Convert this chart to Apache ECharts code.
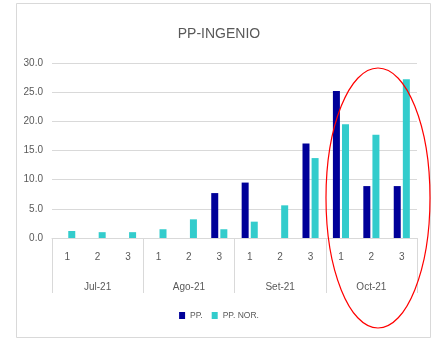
<!DOCTYPE html>
<html><head><meta charset="utf-8">
<script src="https://cdn.jsdelivr.net/npm/echarts@6/dist/echarts.min.js"></script>
<style>html,body{margin:0;padding:0;background:#fff}#c{width:438px;height:340px}</style>
</head><body><div id="c"></div>
<script>
const weeks = ['1','2','3','1','2','3','1','2','3','1','2','3'];
const months = ['Jul-21','Ago-21','Set-21','Oct-21'];
const pp = [0,0,0, 0,0,7.7, 9.5,0,16.2, 25.2,8.9,8.9];
const ppNor = [1.2,1.0,1.0, 1.5,3.2,1.5, 2.8,5.6,13.7, 19.5,17.7,27.2];
const yTicks = [0,5,10,15,20,25,30];

const chart = echarts.init(document.getElementById('c'), null, {renderer:'canvas'});
const font = 'Liberation Sans, Arial, sans-serif';
chart.setOption({
  animation:false,
  backgroundColor:'#fff',
  title:{text:'PP-INGENIO', left:'center', top:22, textStyle:{fontFamily:font, fontSize:14, fontWeight:'normal', color:'#595959'}},
  grid:{left:52, right:21, top:63, bottom:102, containLabel:false},
  legend:{bottom:15, left:'center', itemWidth:6, itemHeight:7, itemGap:9, icon:'rect',
    textStyle:{fontFamily:font, fontSize:8.5, color:'#595959'}, data:['PP.','PP. NOR.']},
  xAxis:[
    {type:'category', data:weeks, position:'bottom',
     axisLine:{show:true, lineStyle:{color:'#d9d9d9'}}, axisTick:{show:false},
     axisLabel:{color:'#595959', fontFamily:font, fontSize:10, margin:14}},
    {type:'category', data:months, position:'bottom', offset:0,
     axisLine:{show:false}, axisTick:{show:true, length:55, lineStyle:{color:'#d9d9d9'}},
     axisLabel:{color:'#595959', fontFamily:font, fontSize:10, margin:44}, splitLine:{show:false}}
  ],
  yAxis:{type:'value', min:yTicks[0], max:yTicks[yTicks.length-1], interval:5,
    axisLine:{show:false}, axisTick:{show:false},
    axisLabel:{color:'#595959', fontFamily:font, fontSize:10, margin:9, formatter:v=>v.toFixed(1)},
    splitLine:{lineStyle:{color:'#d9d9d9'}}},
  series:[
    {name:'PP.', type:'bar', data:pp, barWidth:7, barGap:'30%', itemStyle:{color:'#000099'}},
    {name:'PP. NOR.', type:'bar', data:ppNor, barWidth:7, barGap:'30%', itemStyle:{color:'#33CCCC'}}
  ],
  graphic:[
    {type:'rect', shape:{x:16.5, y:3.5, width:414, height:334}, style:{fill:null, stroke:'#d9d9d9', lineWidth:1}, silent:true},
    {type:'ellipse', shape:{cx:378, cy:198, rx:52, ry:130}, style:{fill:null, stroke:'#ff0000', lineWidth:1.2}, silent:true, z:100}
  ]
});
</script></body></html>
